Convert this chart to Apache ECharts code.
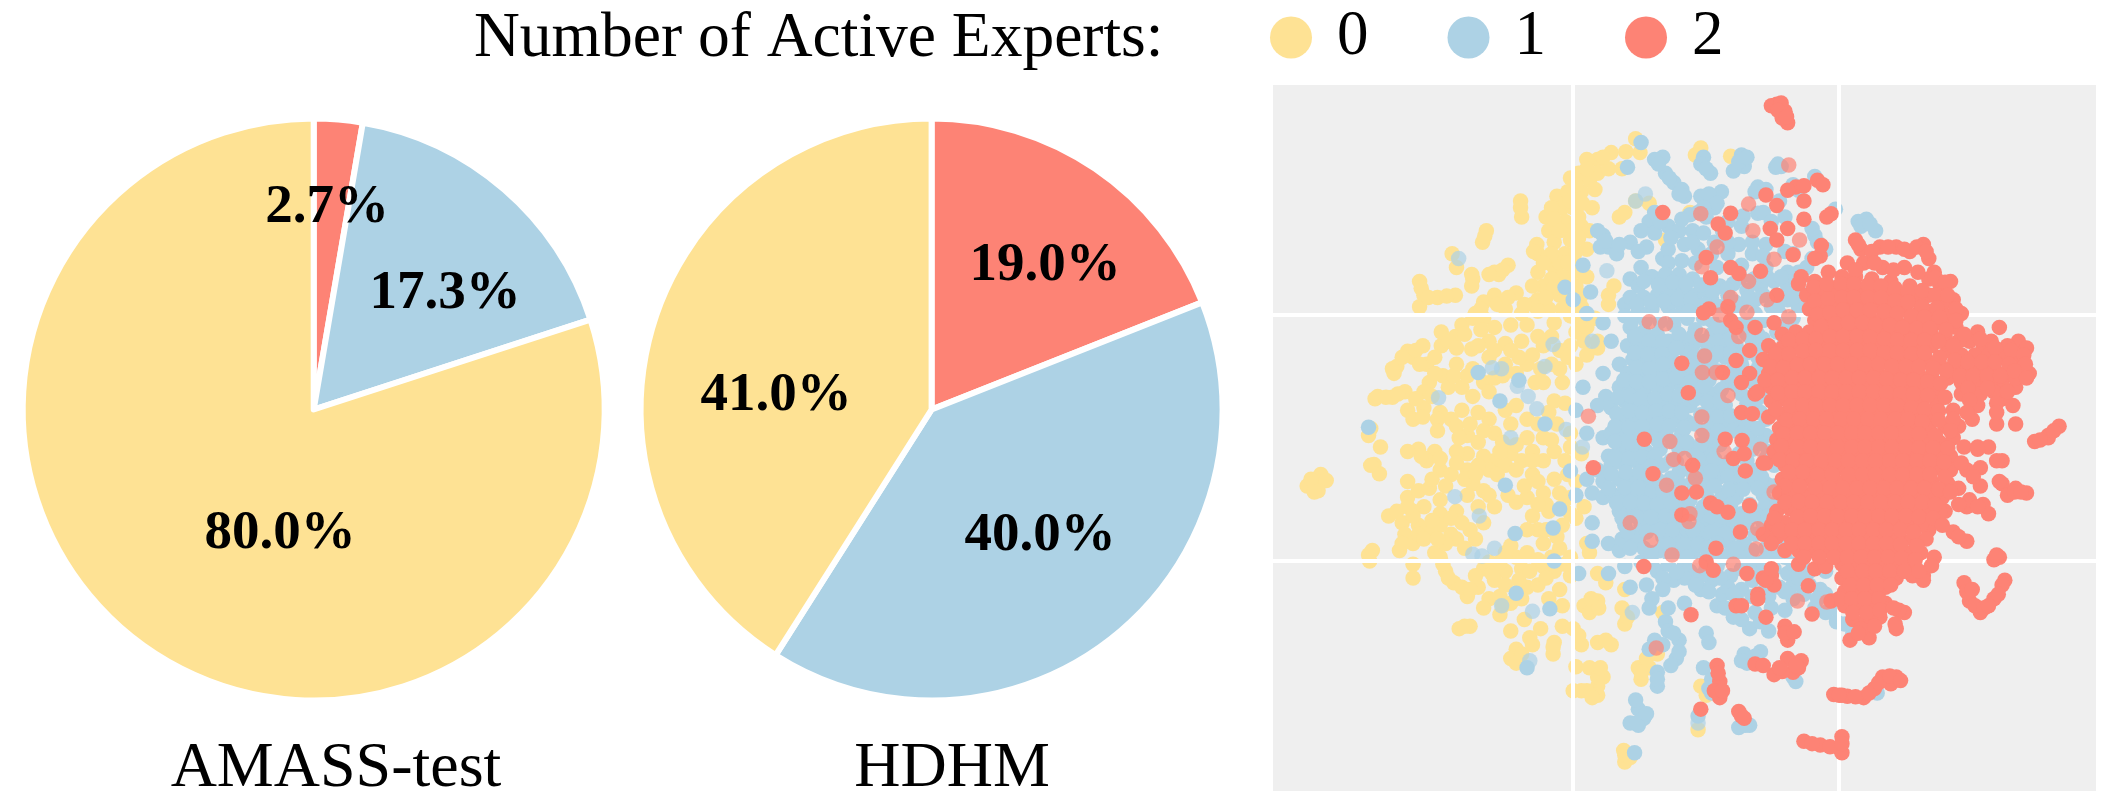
<!DOCTYPE html>
<html>
<head>
<meta charset="utf-8">
<style>html,body{margin:0;padding:0;background:#fff}#c{width:2101px;height:791px}</style>
<script src="https://cdn.jsdelivr.net/npm/echarts@6/dist/echarts.min.js"></script>
</head>
<body>
<div id="c"></div>
<script>
const expertCounts = ['0', '1', '2'];
const datasetNames = ['AMASS-test', 'HDHM'];
const amassShares = [2.7, 17.3, 80.0];
const hdhmShares = [19.0, 40.0, 41.0];
const gridX = [595, 1084];
const gridY = [533, 1068];

// Embedding coordinates, one list per number of active experts.
const embedding0 = [[120,905],[105,905],[130,880],[140,893],[125,915],[112,890],[118,918],[218,795],[222,780],[240,820],[228,858],[238,878],[222,860],[218,1055],[225,1045],[220,1068],[230,715],[262,712],[285,700],[270,645],[265,660],[290,612],[318,600],[300,625],[325,640],[352,600],[352,570],[378,580],[408,607],[390,555],[415,530],[430,505],[450,490],[490,485],[372,400],[380,430],[498,285],[500,320],[435,350],[428,375],[312,460],[320,490],[312,515],[345,495],[378,490],[410,455],[408,470],[450,440],[475,425],[458,445],[528,380],[530,400],
[710,150],[718,180],[692,178],[665,180],[640,195],[620,195],[605,225],[590,235],[625,240],[610,265],[565,275],[575,300],[630,300],[545,320],[610,340],[550,350],[590,370],[625,350],[560,375],[580,400],[620,390],[600,420],[560,430],[530,440],[590,445],[620,450],[540,470],[570,490],[530,500],[550,520],[660,490],[670,470],[660,510],[680,320],[690,310],[710,285],[735,290],[600,470],[575,450],[610,490],[590,510],[640,225],[660,215],[685,215],[650,190],[595,300],[605,320],[580,330],[570,420],
[430,540],[470,520],[500,530],[520,510],[560,550],[590,535],[510,555],[600,570],[620,560],[640,605],[620,620],[590,600],[555,580],[530,580],[500,590],[470,595],[440,590],[420,600],[600,640],[570,650],[540,680],[510,640],[495,625],[470,640],[440,625],[410,650],[380,640],[355,665],[330,680],[320,700],[365,690],[390,690],[430,680],[450,670],[410,710],[440,700],[470,740],[490,730],[525,680],[575,680],[560,720],[580,725],[550,745],[510,760],[480,770],[440,760],[420,745],[390,740],[370,760],[350,745],[320,735],[290,740],[300,760],[345,760],[380,775],[400,795],[420,810],[450,790],[510,800],[540,800],[560,830],[590,820],[610,835],[580,850],[540,850],[520,830],[500,850],[480,835],[450,850],[430,840],[400,835],[380,830],[340,830],[310,825],[290,830],[325,850],[350,870],[370,880],[400,870],[410,900],[430,915],[440,870],[470,860],[490,870],[520,880],[560,890],[540,920],[510,930],[490,940],[450,950],[440,925],[420,950],[400,925],[290,895],[290,930],[310,915],[330,910],[350,935],[380,960],[350,965],[320,950],[300,960],[255,970],[280,985],[285,1010],[275,1045],[300,1030],[330,1000],[370,1010],[340,1050],[380,1020],[310,990],[350,990],[300,1075],[300,1105],[350,1060],[360,1090],[375,1115],[415,1020],[430,1085],[440,1070],[480,1035],[490,1060],[470,1090],[500,1085],[510,1050],[450,1110],[420,1125],[400,1145],[440,1150],[470,1120],[510,1125],[500,1150],[530,1120],[570,1130],[590,1100],[560,1090],[540,1080],[590,1060],[570,1040],[540,1030],[530,1000],[520,970],[545,945],[590,930],[600,895],[570,920],[550,960],[575,990],[590,965],[615,950],[600,975],[510,1000],[430,1170],[460,1185],[385,1215],[405,1210],[480,1220],[505,1195],[535,1215],[575,1210],[595,1215],[610,1250],[560,1245],[558,1270],[490,1260],[480,1280],[500,1270],[520,1250],[575,1165],[550,1150],
[690,690],[620,1030],[625,1050],[640,1095],[655,1115],[630,1165],[615,1165],[640,1155],[625,1180],[685,1170],[690,1205],[695,1190],[760,1180],[640,1245],[665,1250],[655,1240],[600,1298],[625,1300],[650,1320],[640,1340],[620,1350],[595,1350],[640,1360],[715,1300],[720,1325],[735,1300],[830,1340],[840,1360],[825,1435],[688,1480],[690,1505],[830,170],[820,185],[885,188],[765,370],[750,1270],[730,1280],[690,1130],[810,310],
[600,250],[620,215],[635,260],[585,265],[590,285],[555,300],[612,290],[560,325],[585,350],[605,365],[570,350],[600,395],[555,400],[540,420],[585,420],[610,440],[555,455],[590,480],[560,475],[520,470],[545,495],[575,520],[610,515],[635,540],[610,545],[530,525],[498,300],[432,362],[315,475],[328,495],[362,492],[408,445],[465,435],[440,445],[522,395],[235,710],[250,712],[272,705],[262,650],[280,625],[305,610],[312,640],[340,625],[365,590],[380,605],[395,575],[410,540],[425,565],[450,560],[480,555],[455,510],[425,520],[475,495],[505,510],[480,610],[450,610],[540,600],[570,610],[585,625],[615,590],[640,590],[520,620],[555,640],[535,650],[490,660],[465,665],[400,665],[375,665],[340,660],[335,710],[305,715],[318,755],[345,785],[385,800],[405,770],[430,785],[465,810],[490,815],[530,770],[565,770],[590,790],[555,805],[520,850],[460,830],[420,860],[380,855],[350,845],[315,840],[335,890],[360,905],[395,890],[415,880],[455,880],[505,905],[530,895],[585,880],[575,950],[530,945],[475,925],[430,985],[405,1000],[370,975],[390,985],[335,980],[310,1010],[280,1030],[320,1020],[360,1030],[395,1040],[300,970],[270,960],[290,950],[345,1020],[355,1075],[365,1105],[390,1125],[415,1100],[445,1095],[460,1070],[470,1050],[495,1110],[530,1065],[515,1090],[545,1105],[580,1075],[555,1060],[565,1015],[545,1000],[405,1130],[460,1145],[480,1160],[465,1165],[395,1210],[490,1290],[515,1235],[558,1255],[605,1230],[640,1320],[610,1350],[630,1365],[628,1150],[642,1170],[720,1310],[690,1490],[700,1495],[645,1300]];

const embedding1 = [[720,158],[695,212],[760,190],[745,195],[765,225],[780,245],[795,260],[800,275],[835,190],[830,205],[848,225],[905,185],[910,210],[890,220],[978,210],[968,212],[935,255],[950,260],[1000,250],[830,275],[868,265],[1078,303],[1040,232],[1120,330],[1135,325],[1152,350],[1040,360],[1060,390],[935,312],[908,318],[975,285],[1000,400],[1035,410],[1010,440],[810,315],[825,310],[850,285],[855,300],
[218,777],[420,658],[495,675],[460,720],[543,770],[470,903],[488,1008],[558,996],[570,955],[560,1068],[490,1138],[552,1172],[510,1300],[613,425],[580,473],[627,483],[590,872],[600,925],[613,690],[605,1095],[708,1485],
[715,1390],[700,1420],[715,1425],[725,1410],[765,1200],[770,1220],[790,1240],[745,1240],[735,1260],[785,1280],[775,1295],[750,1310],[750,1340],[840,1225],[845,1245],[835,1300],[850,1325],[850,1355],[910,1270],[915,1290],[940,1265],[825,1405],[900,1430],[920,1425],[1000,1320],[1155,1355],[800,1160],[770,1170],[740,1150],[700,1125],
[595,500],[620,530],[650,550],[665,590],[680,640],[650,660],[655,710],[600,740],[640,730],[620,790],[650,800],[660,840],[640,870],[620,890],[630,920],[650,930],[630,985],[660,1030],[630,1025],[680,1045],[690,1080],[660,1095],[650,360],[660,385],[700,375],[735,330],[770,340],[730,385],[760,410],[720,430],[700,455],[690,510],[645,385],[675,400],[640,350],[720,350],[745,310],
[860,1165],[890,1190],[920,1215],[955,1220],[960,1170],[1000,1150],[1040,1170],[1080,1200],[1110,1225],[870,1140],[900,1160],[930,1180],[1020,1140],[1060,1180],[830,1130],[850,1110],[780,1110],[810,1090],[750,1090],[730,1120],[720,1070],[700,1010],
[790,350],[815,350],[840,320],[870,350],[900,380],[925,400],[950,380],[800,380],[825,390],[770,390],[850,400],[880,400],[770,420],[795,415],[820,420],[860,430],[905,425],[950,430],[990,440],
[715,470],[740,450],[765,445],[790,445],[815,455],[840,480],[865,470],[890,465],[915,480],[940,470],[965,460],[990,470],[1010,480],
[700,495],[725,495],[750,490],[775,480],[800,480],[820,490],[850,500],[880,490],[905,510],[930,500],[960,515],[990,500],[1010,515],
[690,535],[715,525],[740,520],[770,515],[795,510],[820,520],[850,545],[900,535],[930,530],[975,530],[1000,540],
[700,560],[725,570],[750,575],[780,555],[805,540],[820,565],[850,575],[875,570],[905,560],[935,575],[970,570],[1000,570],
[695,600],[720,600],[745,605],[770,590],[795,590],[815,600],[845,600],[870,600],[895,600],[925,590],[950,600],
[705,630],[725,635],[750,630],[775,620],[805,615],[825,640],[850,630],[875,625],[905,640],[935,625],
[695,660],[720,665],[745,655],[770,650],[800,660],[820,670],[845,675],[880,680],[895,660],[925,680],[950,660],
[680,690],[700,690],[725,700],[750,690],[775,680],[795,690],[830,700],[855,705],[905,705],[935,650],
[665,735],[690,720],[710,730],[735,730],[760,725],[785,725],[810,730],[850,740],[875,730],[895,770],[930,725],[950,710],
[680,760],[705,765],[730,760],[755,755],[780,760],[805,765],[850,770],[875,770],[920,775],[950,760],
[665,790],[690,790],[715,790],[745,785],[765,790],[795,790],[820,770],[850,800],[890,785],[920,800],[950,795],
[680,825],[705,830],[730,830],[755,825],[790,825],[815,830],[845,830],[900,835],[925,825],[955,830],
[665,860],[690,860],[715,855],[760,860],[790,875],[835,860],[865,860],[890,870],[935,870],[965,860],
[650,895],[680,890],[705,890],[730,900],[790,900],[840,890],[865,885],[895,900],[920,895],[950,900],
[670,925],[695,925],[720,925],[745,930],[770,930],[840,915],[870,925],[895,930],[945,925],[975,925],
[680,960],[705,955],[730,960],[755,960],[780,945],[835,950],[905,965],[935,960],[960,955],
[690,990],[720,990],[745,985],[770,985],[835,985],[860,990],[885,990],[915,985],[945,985],
[685,1020],[715,1020],[760,1015],[785,1015],[810,1020],[835,1015],[880,1025],[910,1030],[950,1040],[980,1030],
[755,1045],[790,1045],[815,1050],[885,1050],[905,1060],[925,1070],[960,1060],[985,1060],
[770,1075],[800,1075],[860,1080],[885,1100],[940,1095],[990,1095],
[800,1105],[830,1100],[880,1125],[905,1130],[975,1125],[1000,1120],[1050,1130],[1090,1150],[1030,1090],[1060,1090],
[752,205],[772,235],[790,270],[840,215],[900,200],[915,190],[972,205],[930,265],[1010,262],[845,270],[860,290],[1125,340],[1142,335],[835,300],[880,330],[905,340],[945,310],[960,330],[985,320],[1045,375],[1035,345],[655,372],[680,380],[715,395],[745,355],[755,330],[775,365],[795,325],[815,375],[835,355],[855,375],[880,375],[925,375],[945,405],[985,395],[1025,430],
[725,460],[752,468],[778,462],[803,465],[830,468],[852,482],[878,478],[903,452],[928,455],[952,450],[978,450],[1005,460],[712,510],[738,505],[762,503],[788,498],[812,500],[838,510],[865,515],[893,505],[918,495],[945,490],[975,505],[1000,495],[702,548],[728,545],[755,547],[783,535],[808,525],[835,540],[862,560],[915,548],[945,545],[985,550],[708,580],[735,590],[760,590],[790,575],[815,580],[838,590],[862,590],[885,585],[915,575],[945,585],[985,590],[708,615],[733,618],[758,618],[785,605],[818,625],[840,615],[862,615],[885,615],[915,615],[943,610],[712,648],[735,650],[760,640],[788,640],[812,645],[838,655],[862,655],[890,650],[915,660],[945,640],[688,675],[712,678],[735,678],[760,672],[785,668],[810,680],[835,688],[868,695],[895,685],[930,665],[678,712],[700,708],[718,715],[745,715],[770,705],[790,708],[820,715],[842,722],[865,720],[915,725],[945,700],[675,748],[698,742],[722,745],[748,742],[772,742],[795,745],[830,750],[862,755],[885,752],[912,750],[940,745],[672,775],[698,778],[722,775],[750,770],[772,775],[800,778],[835,785],[862,785],[905,790],[935,780],[672,808],[698,810],[722,810],[750,805],[778,808],[805,810],[830,815],[865,815],[910,815],[940,812],[672,842],[698,845],[722,842],[745,842],[775,850],[825,845],[855,845],[885,850],[915,850],[950,845],[665,878],[692,875],[718,875],[745,880],[775,888],[822,875],[850,872],[880,885],[905,885],[942,885],[660,910],[690,908],[715,908],[740,915],[780,915],[855,905],[882,912],[908,912],[935,910],[965,905],[675,942],[700,940],[725,942],[750,945],[775,940],[845,935],[885,945],[920,945],[950,942],[970,940],[685,975],[712,972],[738,972],[765,970],[780,975],[848,970],[895,975],[925,972],[955,970],[695,1005],[730,1005],[755,1000],[778,1000],[825,1000],[850,1005],[875,1008],[900,1008],[930,1010],[965,1005],[725,1040],[770,1032],[800,1032],[825,1032],[860,1030],[895,1040],[925,1045],[965,1035],[740,1070],[775,1060],[805,1060],[840,1062],[870,1062],[905,1085],[945,1070],[965,1085],[760,1105],[785,1092],[820,1120],[845,1135],[865,1105],[890,1140],[925,1110],[950,1125],[925,1145],[955,1145],[985,1135],[1010,1105],[1030,1120],[1060,1140],[1075,1170],[1095,1205],[905,1195],[875,1170],[940,1200],[1045,1150],[985,1175],[760,1130],[735,1170],[712,1420],[730,1400],[710,1370],[780,1225],[760,1250],[750,1325],[790,1265],[845,1345],[905,1285],[930,1275],[912,1425],[1005,1330],
[738,862],[735,882],[755,895],[760,915],[815,895],[810,870],[785,852],[815,915],[805,945],[805,1000],[800,985],[810,935],[860,950],[872,972],[825,905],[802,965],[822,965],[738,1050],[700,1040],[815,1000],[840,1085],[840,1040],[865,1055],[1020,1030],[1000,1075]];

const embedding1Blended = [[384,410],[710,285],[728,270],[558,597],[630,590],[543,645],[446,648],[463,650],[492,688],[347,713],[512,710],[528,737],[480,800],[582,782],[612,820],[377,928],[422,970],[450,1040],[410,1053],[427,1057],[463,1165],[520,1177],[704,1180],[515,1285],[825,1420],[657,437]];

const embedding2Blended = [[830,313],[918,292],[992,207],[926,350],[860,385],[1012,370],[965,412],[832,428],[918,460],[885,495],[952,500],[915,527],[735,548],[765,552],[832,577],[865,533],[992,537],[900,580],[837,622],[833,658],[858,658],[880,708],[832,755],[623,753],[773,808],[832,795],[873,830],[940,825],[780,847],[800,845],[820,888],[767,903],[810,965],[808,982],[700,985],[738,1023],[777,1055],[828,1078],[890,1075],[932,1042],[935,998],[1008,1155],[1062,1157],[748,1257],[965,918]];

const embedding2 = [[970,75],[985,90],[990,115],[960,78],[978,72],[980,105],[972,88],[988,102],
[760,310],[885,312],[862,335],[875,355],[840,408],[885,430],[900,443],[940,438],[848,452],[970,295],[950,272],[1005,255],[990,262],[1020,252],[1045,240],[1055,250],[1020,285],[1020,325],[1070,313],[1062,320],[990,345],[958,345],[970,370],[1000,402],[1050,405],[1040,410],[1052,382],[1015,450],[1010,465],[970,490],[845,520],[880,515],[835,528],[885,545],[895,560],[930,560],[965,550],[895,632],[920,610],[795,638],[870,658],[920,660],[905,680],[807,702],[930,705],[905,745],[925,748],[726,803],[875,803],[906,806],[815,860],[950,855],[632,865],[912,872],[890,845],[910,835],[742,878],[795,920],[822,918],[848,942],[860,950],[920,948],[880,962],[795,968],[858,1040],[903,1005],[725,1080],[840,1070],[853,1088],[915,1095],[960,1100],[935,1140],[895,1165],[812,1185],[950,1190],[1028,1122],[1035,1183],[985,1210],[990,1240],[965,1315],[1000,1310],[1015,1285],[990,1280],[930,1292],[980,1308],[860,1295],[865,1330],[865,1365],[855,1350],[830,1390],[905,1405],[900,1395],[910,1410],
[1075,1358],[1100,1362],[1130,1365],[1150,1345],[1165,1320],[1190,1320],[1180,1335],[1020,1460],[1050,1468],[1085,1475],[1090,1450],[1090,1485],[1090,1360],[1115,1363],[1140,1355],[1158,1332],[1178,1318],[1198,1328],[1035,1465],[1068,1472],[1090,1465],[1010,1300],[945,1295],[975,1300],[1005,1295],[985,1225],[1002,1222],[862,1312],[870,1350],[1085,1360],
[1115,370],[1125,390],[1160,385],[1190,385],[1215,395],[1240,380],[1250,410],[1100,420],[1130,420],[1165,430],[1205,430],[1260,440],[1270,465],[1290,460],[1250,455],[1295,500],[1310,530],[1380,560],[1340,570],[1350,600],[1415,590],[1430,605],[1435,660],[1410,690],[1385,715],[1405,730],[1375,770],[1410,770],[1490,775],[1470,795],[1445,808],[1340,820],[1385,850],[1345,905],[1385,900],[1430,920],[1395,925],[1410,910],[1350,945],[1360,965],[1320,1025],[1295,1005],[1260,1060],[1240,1100],[1380,1060],[1370,1065],[1390,1110],[1370,1150],[1345,1180],[1315,1115],[1325,1155],[1335,1165],[1205,1180],[1190,1215],[1140,1235],[1105,1240],[1250,1000],[1280,960],[1320,950],
[1040,460],[1065,440],[1090,450],[1115,450],[1145,455],[1180,460],[1215,470],
[1025,490],[1050,485],[1075,480],[1100,480],[1125,480],[1150,480],[1175,490],[1200,490],[1225,500],[1250,490],[1275,510],
[1030,520],[1055,515],[1080,510],[1105,510],[1130,510],[1155,510],[1180,515],[1205,520],[1230,530],[1255,525],[1285,535],
[1040,545],[1065,540],[1090,535],[1115,535],[1140,535],[1165,540],[1190,545],[1215,550],[1240,550],[1265,550],[1300,560],[1325,590],
[980,575],[1005,570],[1030,570],[1055,570],[1080,565],[1105,565],[1130,565],[1155,570],[1180,570],[1205,575],[1230,575],[1255,575],[1280,580],[1305,590],[1365,590],[1395,600],
[955,600],[980,605],[1005,600],[1030,600],[1055,595],[1080,595],[1105,595],[1130,595],[1155,600],[1180,600],[1205,605],[1230,600],[1255,600],[1285,610],[1310,620],[1335,620],[1360,620],[1385,625],[1410,625],
[945,630],[970,635],[995,630],[1020,625],[1045,625],[1070,625],[1095,625],[1120,625],[1145,625],[1170,630],[1195,630],[1220,630],[1245,630],[1270,640],[1295,645],[1320,650],[1345,650],[1370,650],[1395,655],[1420,650],
[955,660],[980,660],[1005,655],[1030,655],[1055,655],[1080,655],[1105,655],[1130,655],[1155,655],[1180,660],[1205,660],[1230,660],[1255,665],[1285,670],[1310,680],[1335,680],[1360,680],[1385,680],[1410,670],
[935,700],[960,690],[985,685],[1010,685],[1035,685],[1060,685],[1085,685],[1110,685],[1135,685],[1160,685],[1185,690],[1210,690],[1235,690],[1260,695],[1310,705],[1345,705],[1370,700],
[960,720],[985,715],[1010,715],[1035,715],[1060,715],[1085,715],[1110,715],[1135,715],[1160,715],[1185,715],[1210,720],[1235,720],[1265,725],[1295,740],[1340,730],[1375,725],
[955,755],[980,750],[1005,745],[1030,745],[1055,745],[1080,745],[1105,745],[1130,745],[1155,745],[1180,745],[1205,745],[1230,750],[1255,755],[1330,760],
[975,780],[1000,775],[1025,775],[1050,775],[1075,775],[1100,775],[1125,775],[1150,775],[1175,775],[1200,775],[1225,775],[1250,780],[1280,775],[1305,775],
[970,805],[995,805],[1020,805],[1045,805],[1070,805],[1095,805],[1120,805],[1145,805],[1170,805],[1195,805],[1220,805],[1245,810],[1270,810],[1295,800],[1315,820],[1360,820],
[965,830],[990,835],[1015,835],[1040,835],[1065,835],[1090,835],[1115,835],[1140,835],[1165,835],[1190,835],[1215,835],[1240,835],[1265,835],[1290,840],
[985,860],[1010,860],[1035,865],[1060,865],[1090,865],[1115,865],[1140,865],[1165,865],[1190,865],[1215,865],[1240,865],[1265,865],[1290,870],[1345,865],[1320,870],[945,855],
[980,890],[1005,890],[1030,890],[1055,895],[1080,895],[1105,895],[1130,895],[1155,895],[1180,895],[1205,895],[1230,895],[1255,895],[1285,900],[1305,910],
[975,920],[1000,920],[1025,925],[1050,925],[1075,925],[1100,925],[1125,925],[1150,925],[1175,925],[1200,925],[1225,925],[1250,925],[1275,930],[1325,935],
[970,960],[995,955],[1020,955],[1045,955],[1070,955],[1095,955],[1120,955],[1145,955],[1170,955],[1195,955],[1220,955],[1245,955],[1270,960],
[960,990],[985,985],[1010,985],[1035,985],[1060,985],[1085,985],[1110,985],[1135,985],[1160,985],[1185,985],[1210,985],[1235,990],
[945,1010],[970,1015],[995,1015],[1020,1015],[1045,1015],[1070,1015],[1095,1015],[1120,1015],[1145,1015],[1170,1015],[1195,1015],[1220,1020],[1245,1020],
[985,1045],[1010,1045],[1035,1045],[1060,1045],[1085,1045],[1110,1045],[1135,1045],[1160,1045],[1185,1045],[1210,1050],[1235,1050],
[1010,1075],[1040,1085],[1060,1080],[1090,1075],[1115,1075],[1140,1075],[1165,1075],[1190,1075],[1215,1080],
[945,1105],[965,1120],[1090,1105],[1115,1105],[1140,1105],[1165,1105],[1190,1105],[1220,1100],[1240,1110],
[1070,1155],[1095,1135],[1120,1135],[1145,1135],[1170,1125],[1095,1165],[1120,1165],[1145,1165],[1170,1160],[1195,1175],[1110,1195],[1135,1195],[1160,1190],
[1120,380],[1145,395],[1175,385],[1205,390],[1228,385],[1245,395],[1115,435],[1150,420],[1185,435],[1230,440],[1262,452],[1280,462],[1038,472],[1062,465],[1088,465],[1112,465],[1138,468],[1162,470],[1188,475],[1212,482],[1238,480],[1262,490],[1285,490],[1040,503],[1065,498],[1090,495],[1112,495],[1138,495],[1162,495],[1188,502],[1212,505],[1238,515],[1265,518],[1300,520],[1045,532],[1068,528],[1092,522],[1118,522],[1142,522],[1168,525],[1192,530],[1218,535],[1242,538],[1270,538],[1300,545],[1052,558],[1078,552],[1102,550],[1128,550],[1152,555],[1178,555],[1202,560],[1228,562],[1252,562],[1282,565],[1315,575],[992,588],[1018,585],[1042,585],[1068,580],[1092,580],[1118,580],[1142,582],[1168,585],[1192,588],[1218,588],[1242,588],[1268,590],[1295,600],[1345,585],[1372,605],[1402,610],[1425,620],[968,618],[992,618],[1018,612],[1042,610],[1068,610],[1092,610],[1118,610],[1142,610],[1168,615],[1192,615],[1218,618],[1242,615],[1270,625],[1298,632],[1322,635],[1348,635],[1372,635],[1398,640],[1428,640],[958,645],[982,648],[1008,642],[1032,640],[1058,640],[1082,640],[1108,640],[1132,640],[1158,640],[1182,645],[1208,645],[1232,645],[1258,648],[1282,655],[1308,665],[1332,665],[1358,665],[1382,665],[1408,655],[1430,670],[948,675],[972,675],[998,670],[1022,670],[1048,670],[1072,670],[1098,670],[1122,670],[1148,670],[1172,672],[1198,675],[1222,675],[1248,678],[1272,682],[1322,692],[1358,692],[1395,700],[972,702],[998,700],[1022,700],[1048,700],[1072,700],[1098,700],[1122,700],[1148,700],[1172,702],[1198,705],[1222,705],[1248,708],[1280,712],[1325,718],[968,738],[995,730],[1018,730],[1042,730],[1068,730],[1092,730],[1118,730],[1142,730],[1168,730],[1192,730],[1218,735],[1242,738],[1268,742],[1320,745],[1375,745],[988,762],[1012,760],[1038,760],[1062,760],[1088,760],[1112,760],[1138,760],[1162,760],[1188,760],[1212,760],[1238,765],[1268,762],[1295,760],[982,792],[1008,790],[1032,790],[1058,790],[1082,790],[1108,790],[1132,790],[1158,790],[1182,790],[1208,790],[1232,792],[1262,795],[1290,785],[978,818],[1008,820],[1032,820],[1058,820],[1082,820],[1108,820],[1132,820],[1158,820],[1182,820],[1208,820],[1232,822],[1258,822],[1285,822],[1340,825],[975,848],[1000,848],[1025,850],[1052,850],[1078,850],[1102,850],[1128,850],[1152,850],[1178,850],[1202,850],[1228,850],[1252,850],[1278,852],[1310,855],[1375,850],[992,875],[1018,875],[1045,880],[1072,880],[1102,880],[1128,880],[1152,880],[1178,880],[1202,880],[1228,880],[1252,880],[1280,885],[1332,885],[985,905],[1012,905],[1040,908],[1068,910],[1092,910],[1118,910],[1142,910],[1168,910],[1192,910],[1218,910],[1242,910],[1268,912],[1290,918],[985,940],[1010,938],[1035,940],[1062,940],[1088,940],[1112,940],[1138,940],[1162,940],[1188,940],[1212,940],[1238,940],[1262,945],[1305,945],[1340,950],[965,975],[1008,972],[1032,970],[1058,970],[1082,970],[1108,970],[1132,970],[1158,970],[1182,970],[1208,970],[1232,972],[1258,975],[975,1000],[998,1000],[1022,1000],[1048,1000],[1072,1000],[1098,1000],[1122,1000],[1148,1000],[1172,1000],[1198,1000],[1222,1005],[1275,990],[1305,1015],[960,1030],[998,1030],[1022,1030],[1048,1030],[1072,1030],[1098,1030],[1122,1030],[1148,1030],[1172,1030],[1198,1032],[1228,1035],[1020,1060],[1048,1060],[1075,1060],[1100,1060],[1125,1060],[1150,1060],[1175,1060],[1200,1062],[1225,1065],[1255,1078],[1100,1090],[1128,1090],[1152,1090],[1178,1090],[1205,1090],[1232,1090],[1105,1120],[1130,1120],[1155,1120],[1180,1120],[1085,1150],[1108,1150],[1132,1150],[1158,1150],[1110,1180],[1135,1180],[1160,1175],[1185,1170],[1125,1215],[1150,1210],[1120,1225],[1188,1205],[1320,1135],[1330,1130],[1352,1170],[1385,1120],[1378,1140],[1360,1165],[1375,1055],[1470,800],[1480,785],[1455,805],[1408,918],[1420,918],[1380,895],[950,1110],[960,1085],[935,1150],[905,1165]];

const palette = { zero: '#FEE294', one: '#ADD2E5', two: '#FD8375' };
const sliceColors = [palette.two, palette.one, palette.zero];
const serifFont = '"Liberation Serif", "Times New Roman", serif';

function pieSeries(name, shares, center, labelSpots) {
  return {
    type: 'pie', name,
    center, radius: 291, startAngle: 90, clockwise: true,
    avoidLabelOverlap: false, minShowLabelAngle: 0, silent: true,
    data: shares.map((value, i) => ({
      value, name: expertCounts[2 - i],
      itemStyle: { color: sliceColors[i], borderColor: '#fff', borderWidth: 6 }
    })),
    label: {
      show: true, position: 'inside', color: '#000',
      fontFamily: serifFont, fontWeight: 'bold', fontSize: 55,
      formatter: p => p.value.toFixed(1) + '%'
    },
    labelLine: { show: false },
    labelLayout: p => ({
      x: labelSpots[p.dataIndex][0], y: labelSpots[p.dataIndex][1],
      align: 'center', verticalAlign: 'middle'
    })
  };
}

function cloud(name, points, color, opacity, z) {
  return {
    type: 'scatter', name, data: points, symbol: 'circle', symbolSize: 15.5, z,
    itemStyle: { color, opacity }, silent: true
  };
}

const chart = echarts.init(document.getElementById('c'), null, { renderer: 'canvas' });
chart.setOption({
  animation: false,
  backgroundColor: '#fff',
  title: [
    { text: 'Number of Active Experts:', left: 469, top: 2, textStyle: { fontFamily: serifFont, fontSize: 63.5, fontWeight: 'normal', color: '#000' } },
    { text: datasetNames[0], left: 331, top: 732, textAlign: 'center', textStyle: { fontFamily: serifFont, fontSize: 64, fontWeight: 'normal', color: '#000' } },
    { text: datasetNames[1], left: 947, top: 732, textAlign: 'center', textStyle: { fontFamily: serifFont, fontSize: 64, fontWeight: 'normal', color: '#000' } }
  ],
  legend: {
    data: expertCounts.map(name => ({ name, icon: 'circle' })),
    left: 1265, top: 1, orient: 'horizontal',
    itemWidth: 42, itemHeight: 42, itemGap: 79,
    selectedMode: false,
    textStyle: { fontFamily: serifFont, fontSize: 63, color: '#000', padding: [0, 0, 0, 20] }
  },
  grid: { left: 1273, right: 5, top: 85, bottom: 0, show: true, backgroundColor: '#EFEFEF', borderWidth: 0 },
  xAxis: { type: 'value', min: 42, max: 1558, show: false, splitLine: { show: false } },
  yAxis: { type: 'value', min: 33, max: 1568, inverse: true, show: false, splitLine: { show: false } },
  series: [
    {
      type: 'scatter', name: 'rules', data: [], z: 1, silent: true,
      markLine: {
        silent: true, symbol: 'none', animation: false, label: { show: false },
        lineStyle: { color: '#fff', width: 4, type: 'solid' },
        data: gridX.map(xAxis => ({ xAxis })).concat(gridY.map(yAxis => ({ yAxis })))
      }
    },
    pieSeries(datasetNames[0], amassShares, [313.7, 409.5], [[327, 208], [445, 294], [280, 534]]),
    pieSeries(datasetNames[1], hdhmShares, [931.6, 409.5], [[1045, 266], [1040, 536], [776, 396]]),
    cloud(expertCounts[0], embedding0, palette.zero, 1, 2),
    cloud('1 blended', embedding1Blended, palette.one, 0.7, 3),
    cloud(expertCounts[1], embedding1, palette.one, 1, 4),
    cloud(expertCounts[2], embedding2, palette.two, 1, 5),
    cloud('2 blended', embedding2Blended, palette.two, 0.7, 6)
  ]
});
</script>
</body>
</html>
